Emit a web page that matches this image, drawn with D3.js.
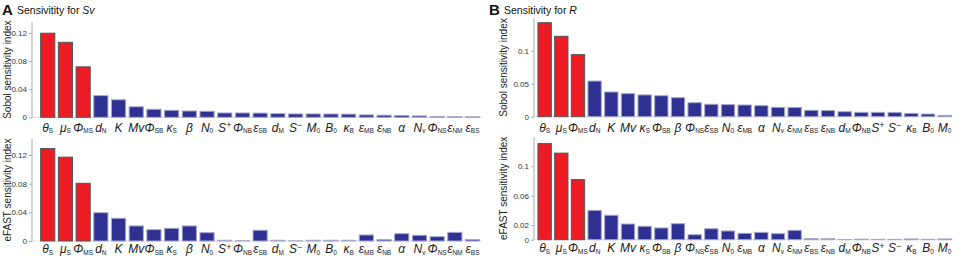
<!DOCTYPE html>
<html>
<head>
<script src="https://d3js.org/d3.v7.min.js"></script>
<style>
    body { margin: 0; background: #fff; font-family: Arial, "Liberation Sans", sans-serif; }
    .tick-label { font-size: 8px; fill: #333; }
    .axis-title { font-size: 10px; fill: #222; }
    .cat { font-size: 12px; fill: #222; }
</style>
</head>
<body>
<script>
// category labels: "_" starts a subscript, "^" a superscript
var catsSv = ["θ_S", "μ_S", "Φ_MS", "d_N", "K", "Mv", "Φ_SB", "κ_S", "β", "N_0", "S^+", "Φ_NB", "ε_SB",
    "d_M", "S^−", "M_0", "B_0", "κ_B", "ε_MB", "ε_NB", "α", "N_v", "Φ_NS", "ε_NM", "ε_BS"];
var sobolSv = [0.120, 0.107, 0.072, 0.031, 0.025, 0.015, 0.0115, 0.010, 0.009, 0.0086, 0.0062, 0.0062, 0.006,
    0.0052, 0.0048, 0.0048, 0.0047, 0.0045, 0.0034, 0.003, 0.0025, 0.002, 0.0012, 0.0008, 0.0006];
var efastSv = [0.129, 0.117, 0.0805, 0.0395, 0.0317, 0.021, 0.0158, 0.0177, 0.021, 0.0116, 0.001, 0.0003, 0.015,
    0.001, 0.0002, 0.001, 0.001, 0.001, 0.0084, 0.0019, 0.0102, 0.008, 0.006, 0.012, 0.002];

var catsR = ["θ_S", "μ_S", "Φ_MS", "d_N", "K", "Mv", "κ_S", "Φ_SB", "β", "Φ_NS", "ε_SB", "N_0", "ε_MB",
    "α", "N_v", "ε_NM", "ε_BS", "ε_NB", "d_M", "Φ_NB", "S^+", "S^−", "κ_B", "B_0", "M_0"];
var sobolR = [0.1424, 0.1218, 0.094, 0.054, 0.0374, 0.0349, 0.033, 0.0318, 0.0288, 0.0212, 0.0188, 0.0183, 0.0177,
    0.0167, 0.0142, 0.0141, 0.0097, 0.0093, 0.0076, 0.0066, 0.0066, 0.0065, 0.005, 0.004, 0.002];
var efastR = [0.131, 0.118, 0.0819, 0.040, 0.0333, 0.0214, 0.0183, 0.016, 0.0218, 0.0068, 0.015, 0.0119, 0.0087,
    0.010, 0.0082, 0.0128, 0.0015, 0.0013, 0.0002, 0.0008, 0.0005, 0.0005, 0.001, 0.0005, 0.001];

var ticksSvTop = [0, 0.04, 0.08, 0.12], ticksSvBot = [0, 0.04, 0.08, 0.12];
var ticksRTop = [0, 0.05, 0.1], ticksRBot = [0, 0.02, 0.06, 0.1];
var nRed = 3;

var svg = d3.select("body").append("svg").attr("width", 964).attr("height", 258);

function panel(o) {
    var x = d3.scaleBand().domain(d3.range(o.cats.length)).range([o.x0, o.x1])
        .paddingInner(0.2).paddingOuter(0.1);
    var y = d3.scaleLinear().domain([0, o.max]).range([o.yb, o.yt]);
    var g = svg.append("g");

    // baseline
    g.append("line").attr("x1", o.ax).attr("x2", o.x1).attr("y1", y(0)).attr("y2", y(0))
        .attr("stroke", "#ddd").attr("stroke-width", 1);

    g.selectAll("rect.bar").data(o.vals).enter().append("rect")
        .attr("x", function(d, i) { return x(i); })
        .attr("width", x.bandwidth())
        .attr("y", function(d) { return y(d); })
        .attr("height", function(d) { return y(0) - y(d); })
        .attr("fill", function(d, i) { return i < nRed ? "#ed1c24" : "#2e3192"; })
        .attr("stroke", function(d, i) { return i < nRed ? "#555" : "#a5a6cc"; })
        .attr("stroke-width", 1);

    // y axis
    var ax = g.append("g").attr("transform", "translate(" + o.ax + ",0)")
        .call(d3.axisLeft(y).tickValues(o.ticks).tickSize(3).tickPadding(2)
            .tickFormat(function(d) { return d === 0 ? "0" : String(+d.toFixed(3)); }));
    ax.select(".domain").attr("d", "M0," + o.yt + "V" + y(0)).attr("stroke", "#aaa");
    ax.selectAll(".tick line").attr("stroke", "#aaa");
    ax.selectAll(".tick text").attr("class", "tick-label").attr("fill", "#333")
        .style("font-family", "Arial, 'Liberation Sans', sans-serif");

    g.append("text").attr("class", "axis-title")
        .attr("transform", "translate(" + o.tx + "," + ((o.yt + y(0)) / 2) + ") rotate(-90)")
        .attr("text-anchor", "middle").text(o.title);

    // category labels
    var lab = g.selectAll("text.cat").data(o.cats).enter().append("text")
        .attr("class", "cat")
        .attr("x", function(d, i) { return x(i) + x.bandwidth() / 2; })
        .attr("y", o.ly)
        .attr("text-anchor", "middle");
    lab.each(function(d) {
        var t = d3.select(this);
        var m = d.match(/^([^_^]+)([_^])?(.*)$/);
        t.append("tspan").style("font-style", "italic").text(m[1]);
        if (m[2] === "_") {
            t.append("tspan").attr("font-size", "6.5px").attr("dy", 1.5).text(m[3]);
        } else if (m[2] === "^") {
            t.append("tspan").attr("font-size", "9px").attr("dy", -3.5).text(m[3]);
        }
    });
}

panel({ cats: catsSv, vals: sobolSv, ticks: ticksSvTop, max: 0.136, yb: 117.3, yt: 22,
    ax: 32, x0: 38.9, x1: 481.4, ly: 131.5, tx: 11, title: "Sobol sensitivity index" });
panel({ cats: catsSv, vals: efastSv, ticks: ticksSvBot, max: 0.1423, yb: 241, yt: 139,
    ax: 32, x0: 38.9, x1: 481.4, ly: 253, tx: 11, title: "eFAST sensitivity index" });
panel({ cats: catsR, vals: sobolR, ticks: ticksRTop, max: 0.149, yb: 116.7, yt: 18.3,
    ax: 534, x0: 536.3, x1: 953, ly: 131.5, tx: 507, title: "Sobol sensitivity index" });
panel({ cats: catsR, vals: efastR, ticks: ticksRBot, max: 0.14, yb: 239.7, yt: 137,
    ax: 534, x0: 536.3, x1: 953, ly: 252, tx: 507, title: "eFAST sensitivity index" });

// panel headings
function heading(x, letter, pre, it) {
    svg.append("text").attr("x", x).attr("y", 15).attr("font-size", "15px").attr("font-weight", "bold")
        .attr("fill", "#111").text(letter);
    var t = svg.append("text").attr("x", x + 15).attr("y", 14).attr("font-size", "10.5px").attr("fill", "#111");
    t.append("tspan").text(pre);
    t.append("tspan").style("font-style", "italic").text(it);
}
heading(2, "A", "Sensivitity for ", "Sv");
heading(489, "B", "Sensitivity for ", "R");
</script>
</body>
</html>
